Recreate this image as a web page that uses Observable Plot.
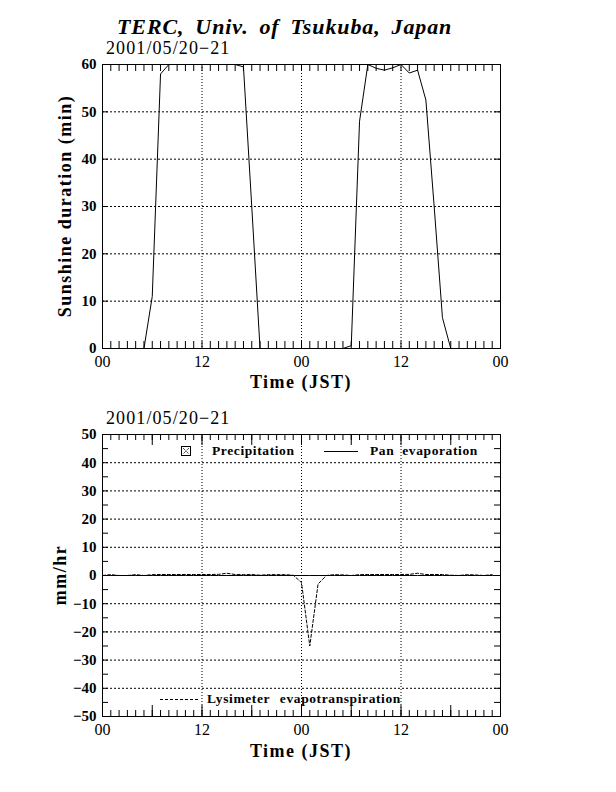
<!DOCTYPE html>
<html><head><meta charset="utf-8">
<script src="https://cdn.jsdelivr.net/npm/d3@7"></script>
<script src="https://cdn.jsdelivr.net/npm/@observablehq/plot@0.6"></script>
<style>
html,body{margin:0;padding:0;background:#fff;}
#wrap{position:relative;width:616px;height:792px;overflow:hidden;background:#fff;}
#wrap svg{position:absolute;left:0;max-width:none;}
#overlay{z-index:5;pointer-events:none;}
</style></head><body><div id="wrap"></div>
<script>
// ---------- data ----------
const titleText = "TERC, Univ. of Tsukuba, Japan";
const dateText = "2001/05/20\u221221";
const hourOfPeriod = d3.range(48);            // hours since 2001/05/20 00 JST
// Sunshine duration (min) per hour
const sunshineMin = [0,0,0,0,0,0,11,58,60,60,60,60,60,60,60,60,60,59.5,30,0,0,0,0,0,
                     0,0,0,0,0,0,0.6,48,60,59.2,58.8,59.3,60,58.2,58.8,52.5,30,6.5,0,0,0,0,0,0];
// Lysimeter evapotranspiration (mm/hr)
const lysimeter = [0,0.3,0,0,0.3,0,0.3,0.35,0.35,0.35,0.35,0.35,0.35,0.35,0.4,0.8,0.35,0.3,0.35,0.1,0.3,0.3,0.3,0.1,
                   -2.5,-25,-3,0,0.3,0.2,0,0.3,0.35,0.35,0.35,0.35,0.35,0.4,0.8,0.35,0.35,0.35,0.1,0,0.3,0.2,0,0.3];
// Pan evaporation (mm/hr)
const panHours = d3.range(49);
const panEvap = panHours.map(() => 0);
// Precipitation (mm/hr)
const precip = hourOfPeriod.map(() => 0);
// tick values
const timeLabelTicks = [0,12,24,36,48];
const timeLabels = ["00","12","00","12","00"];
const timeGrid = [12,24,36];
const hourTicks = d3.range(1,48);
const sixHourTicks = [6,12,18,24,30,36,42];
const sunTicks = [0,10,20,30,40,50,60];
const sunGrid = [10,20,30,40,50];
const evTicks = [-50,-40,-30,-20,-10,0,10,20,30,40,50];
const evMinor = [-45,-35,-25,-15,-5,5,15,25,35,45];
const evGrid = [-40,-30,-20,-10,10,20,30,40];
const legendLabels = ["Precipitation","Pan evaporation","Lysimeter evapotranspiration"];
const yLabels = ["Sunshine duration (min)","mm/hr"];
const xLabel = "Time (JST)";

const FONT = "Liberation Serif";
const W = 398;
const fmtMinus = d => d < 0 ? "\u2212" + (-d) : String(d);
const wrap = document.getElementById("wrap");

// ---------- top panel ----------
const H1 = 284;
const topPlot = Plot.plot({
  width: 616, height: 400,
  marginLeft: 102, marginRight: 116, marginTop: 64, marginBottom: 52,
  x: {domain: [0,48], axis: null},
  y: {domain: [0,60], axis: null},
  style: {fontFamily: FONT, background: "transparent", color: "black"},
  marks: [
    Plot.ruleY(sunGrid, {y: d => d, stroke: "black", strokeDasharray: "2,2"}),
    Plot.ruleX(timeGrid, {x: d => d, stroke: "black", strokeDasharray: "1,2"}),
    Plot.tickX(hourTicks, {x: d => d, insetTop: H1 - 7, stroke: "black"}),
    Plot.tickX(hourTicks, {x: d => d, insetBottom: H1 - 7, stroke: "black"}),
    Plot.tickY(sunGrid, {y: d => d, insetRight: W - 6, stroke: "black"}),
    Plot.tickY(sunGrid, {y: d => d, insetLeft: W - 6, stroke: "black"}),
    Plot.line(hourOfPeriod, {x: d => d, y: d => sunshineMin[d], stroke: "black", strokeWidth: 1}),
    Plot.frame({stroke: "black"}),
    Plot.axisX(timeLabelTicks, {tickSize: 0, tickPadding: 7, fontSize: 16, label: null,
      tickFormat: (d, i) => timeLabels[i]}),
    Plot.axisY(sunTicks, {tickSize: 0, tickPadding: 6, fontSize: 15, fontWeight: "bold", label: null,
      tickFormat: fmtMinus})
  ]
});
topPlot.style.top = "0px";
wrap.appendChild(topPlot);

// ---------- bottom panel ----------
const H2 = 282;
const bottomPlot = Plot.plot({
  width: 616, height: 392,
  marginLeft: 102, marginRight: 116, marginTop: 34, marginBottom: 76,
  x: {domain: [0,48], axis: null},
  y: {domain: [-50,50], axis: null},
  style: {fontFamily: FONT, background: "transparent", color: "black"},
  marks: [
    Plot.ruleY(evGrid, {y: d => d, stroke: "black", strokeDasharray: "2,2"}),
    Plot.ruleX(timeGrid, {x: d => d, stroke: "black", strokeDasharray: "1,2"}),
    Plot.tickX(hourTicks, {x: d => d, insetTop: H2 - 6, stroke: "black"}),
    Plot.tickX(hourTicks, {x: d => d, insetBottom: H2 - 6, stroke: "black"}),
    Plot.tickX(sixHourTicks, {x: d => d, insetTop: H2 - 11, stroke: "black"}),
    Plot.tickX(sixHourTicks, {x: d => d, insetBottom: H2 - 11, stroke: "black"}),
    Plot.tickY(evTicks.concat(evMinor), {y: d => d, insetRight: W - 6, stroke: "black"}),
    Plot.tickY(evTicks.concat(evMinor), {y: d => d, insetLeft: W - 6, stroke: "black"}),
    Plot.rectY(hourOfPeriod, {x1: d => d, x2: d => d + 1, y: d => precip[d], fill: "#888"}),
    Plot.line(panHours, {x: d => d, y: d => panEvap[d], stroke: "black", strokeWidth: 1}),
    Plot.line(hourOfPeriod, {x: d => d, y: d => lysimeter[d], stroke: "black", strokeWidth: 1, strokeDasharray: "3,2"}),
    Plot.frame({stroke: "black"}),
    Plot.axisX(timeLabelTicks, {tickSize: 0, tickPadding: 7, fontSize: 16, label: null,
      tickFormat: (d, i) => timeLabels[i]}),
    Plot.axisY(evTicks, {tickSize: 0, tickPadding: 6, fontSize: 15, fontWeight: "bold", label: null,
      tickFormat: fmtMinus})
  ]
});
bottomPlot.style.top = "400px";
wrap.appendChild(bottomPlot);

// ---------- overlay: titles, axis titles, legends ----------
const ov = d3.select(wrap).append("svg").attr("id","overlay")
  .attr("width",616).attr("height",792).style("top","0px")
  .attr("font-family", FONT).attr("fill","black");

ov.append("text").attr("x",117).attr("y",34).attr("font-size",22).attr("font-weight","bold")
  .attr("font-style","italic").attr("letter-spacing",0.9).attr("word-spacing",4.5).text(titleText);
ov.append("text").attr("x",106).attr("y",54).attr("font-size",18).attr("letter-spacing",1.1).text(dateText);
ov.append("text").attr("x",106).attr("y",424).attr("font-size",18).attr("letter-spacing",1.1).text(dateText);

ov.append("text").attr("transform","translate(71,206) rotate(-90)").attr("text-anchor","middle")
  .attr("font-size",18).attr("font-weight","bold").attr("letter-spacing",1.5).text(yLabels[0]);
ov.append("text").attr("transform","translate(66,575) rotate(-90)").attr("text-anchor","middle")
  .attr("font-size",18).attr("font-weight","bold").attr("letter-spacing",1.5).text(yLabels[1]);
ov.append("text").attr("x",301).attr("y",388).attr("text-anchor","middle")
  .attr("font-size",18).attr("font-weight","bold").attr("letter-spacing",1.5).text(xLabel);
ov.append("text").attr("x",301).attr("y",757).attr("text-anchor","middle")
  .attr("font-size",18).attr("font-weight","bold").attr("letter-spacing",1.5).text(xLabel);

// legend
const lg = ov.append("g").attr("font-size",13.5).attr("font-weight","bold")
  .attr("letter-spacing",0.6);
lg.append("rect").attr("x",181.5).attr("y",446.5).attr("width",9).attr("height",9)
  .attr("fill","none").attr("stroke","black");
lg.append("path").attr("d","M183,448L189,454M189,448L183,454").attr("stroke","black")
  .attr("stroke-dasharray","1,1").attr("fill","none");
lg.append("text").attr("x",212).attr("y",455).text(legendLabels[0]);
lg.append("line").attr("x1",324).attr("x2",358).attr("y1",451.5).attr("y2",451.5).attr("stroke","black");
lg.append("text").attr("x",370).attr("y",455).attr("word-spacing",4).text(legendLabels[1]);
lg.append("line").attr("x1",160).attr("x2",198).attr("y1",699.5).attr("y2",699.5).attr("stroke","black")
  .attr("stroke-dasharray","3,2");
lg.append("text").attr("x",207).attr("y",703).attr("word-spacing",6).text(legendLabels[2]);
</script></body></html>
